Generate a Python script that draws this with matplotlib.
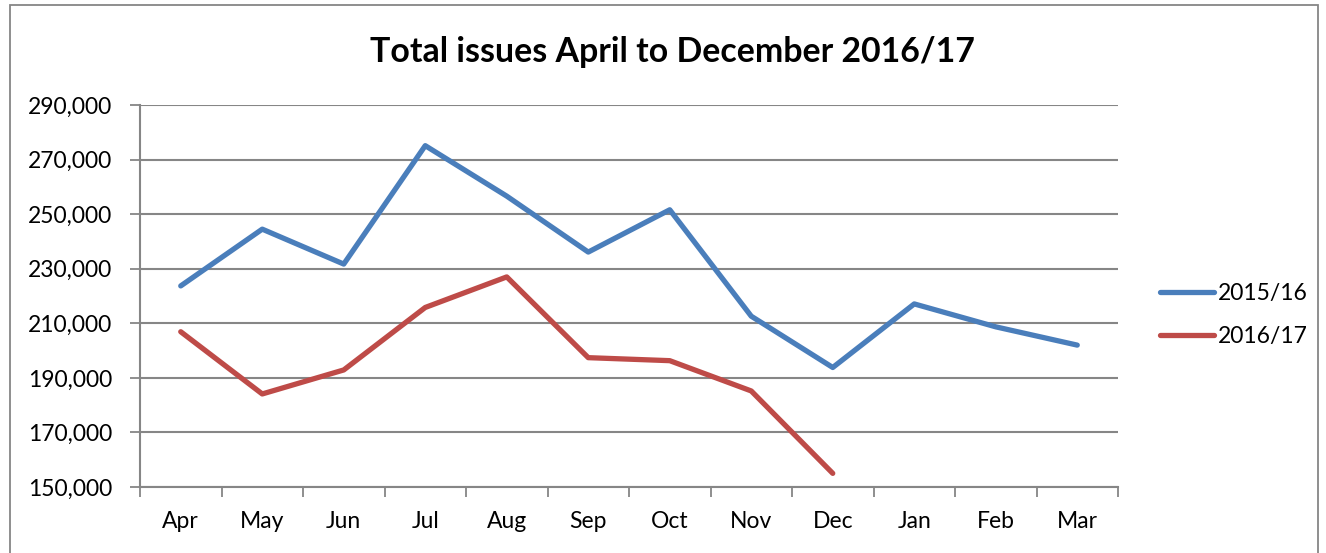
import matplotlib
matplotlib.use("Agg")
import matplotlib.pyplot as plt
from matplotlib.patches import Rectangle
import numpy as np

months = ["Apr", "May", "Jun", "Jul", "Aug", "Sep", "Oct", "Nov", "Dec", "Jan", "Feb", "Mar"]
series_2015_16 = [223700, 244500, 231700, 275100, 256600, 236100, 251600, 212600, 193800, 217100, 208700, 202000]
series_2016_17 = [206900, 184100, 192900, 215800, 227000, 197400, 196300, 185200, 155000]
yticks = [150000, 170000, 190000, 210000, 230000, 250000, 270000, 290000]
title = "Total issues April to December 2016/17"

plt.rcParams['font.family'] = ['Lato', 'DejaVu Sans']

W, H = 1326, 553
fig = plt.figure(figsize=(W / 100, H / 100), dpi=100)
fig.patch.set_facecolor("white")

# outer frame
fig.add_artist(Rectangle((10 / W, -0.05), (1318 - 10) / W, 1.05 - 5 / H,
                         transform=fig.transFigure, fill=False,
                         edgecolor="#868686", linewidth=1.3))

left, right, top, bottom = 140, 1118, 105, 487
ax = fig.add_axes([left / W, 1 - bottom / H, (right - left) / W, (bottom - top) / H])

x = np.arange(len(months))
grid_c = "#868686"
ax.plot(x, series_2015_16, color="#4A7EBB", lw=3.8, solid_capstyle="round",
        solid_joinstyle="round", label="2015/16", zorder=3)
ax.plot(x[:len(series_2016_17)], series_2016_17, color="#BE4B48", lw=3.8,
        solid_capstyle="round", solid_joinstyle="round", label="2016/17", zorder=3)

fs = 16.5
ax.set_xlim(-0.5, len(months) - 0.5)
ax.set_ylim(yticks[0], yticks[-1])
ax.set_yticks(yticks)
ax.set_yticklabels([f"{v:,}" for v in yticks], fontsize=fs)
ax.yaxis.grid(True, color=grid_c, lw=1.5)
ax.set_axisbelow(True)

ax.set_xticks(x)
ax.set_xticklabels(months, fontsize=fs)
ax.set_xticks(np.arange(len(months) + 1) - 0.5, minor=True)
ax.tick_params(axis="x", which="major", length=0, pad=17)
ax.tick_params(axis="x", which="minor", length=7.5, width=1.3, color=grid_c)
ax.tick_params(axis="y", length=7, width=1.3, color=grid_c, pad=13)

for s in ["top", "right"]:
    ax.spines[s].set_visible(False)
for s in ["left", "bottom"]:
    ax.spines[s].set_color(grid_c)
    ax.spines[s].set_linewidth(1.5)

fig.text(672 / W, 1 - 52 / H, title, ha="center", va="center",
         fontsize=24.4, fontweight="bold")

fs_px = fs * 100 / 72
leg = fig.legend(loc="center left", bbox_to_anchor=(1160 / W, 1 - 315 / H),
                 frameon=False, fontsize=fs, handlelength=54 / fs_px,
                 handletextpad=4 / fs_px, labelspacing=0.95,
                 borderpad=0, borderaxespad=0)

fig.savefig("out.png", dpi=100)
